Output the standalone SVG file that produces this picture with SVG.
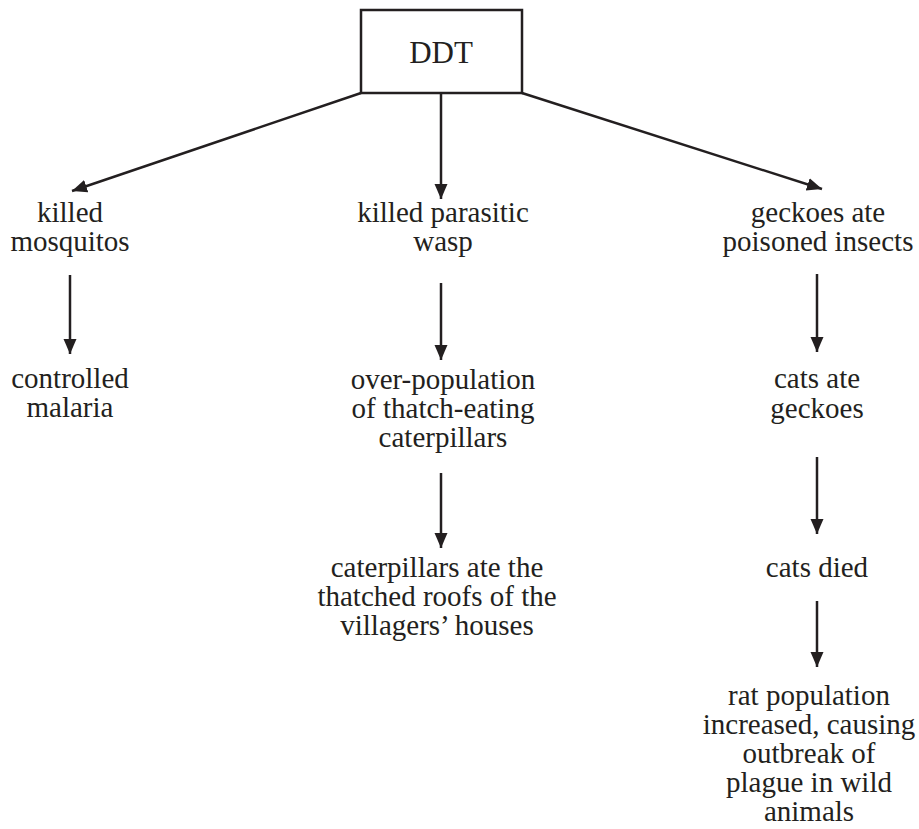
<svg xmlns="http://www.w3.org/2000/svg" width="919" height="829" viewBox="0 0 919 829">
<style>
text{font-family:"Liberation Serif","Times New Roman",serif;font-size:29px;fill:#231f20;text-anchor:middle}
.ln{stroke:#231f20;stroke-width:2.5;fill:none;marker-end:url(#ah)}
</style>
<defs>
<marker id="ah" markerUnits="userSpaceOnUse" markerWidth="16" markerHeight="14" refX="15" refY="6.5" orient="auto">
<path d="M0,0 L15,6.5 L0,13 z" fill="#231f20"/>
</marker>
</defs>
<rect width="919" height="829" fill="#fff"/>
<g id="ddt">
<rect x="361" y="10" width="161" height="83" fill="#fff" stroke="#231f20" stroke-width="2.5"/>
<text x="441" y="63" style="font-size:31px">DDT</text>
</g>
<g id="connectors">
<line class="ln" x1="361" y1="93" x2="72" y2="191"/>
<line class="ln" x1="441" y1="93" x2="441" y2="199"/>
<line class="ln" x1="522" y1="93" x2="822" y2="189"/>
<line class="ln" x1="70" y1="275" x2="70" y2="354"/>
<line class="ln" x1="441" y1="283" x2="441" y2="360"/>
<line class="ln" x1="441" y1="473" x2="441" y2="548"/>
<line class="ln" x1="817" y1="274" x2="817" y2="352"/>
<line class="ln" x1="817" y1="457" x2="817" y2="534"/>
<line class="ln" x1="817" y1="601" x2="817" y2="667"/>
</g>
<g id="mosquitos"><text x="70" y="222">killed</text><text x="70" y="251">mosquitos</text></g>
<g id="malaria"><text x="70" y="388">controlled</text><text x="70" y="417">malaria</text></g>
<g id="wasp"><text x="443" y="222">killed parasitic</text><text x="443" y="251">wasp</text></g>
<g id="overpop"><text x="443" y="389">over-population</text><text x="443" y="418">of thatch-eating</text><text x="443" y="447">caterpillars</text></g>
<g id="roofs"><text x="437" y="577">caterpillars ate the</text><text x="437" y="606">thatched roofs of the</text><text x="437" y="635">villagers’ houses</text></g>
<g id="geckoes"><text x="818" y="222">geckoes ate</text><text x="818" y="251">poisoned insects</text></g>
<g id="catsate"><text x="817" y="388">cats ate</text><text x="817" y="418">geckoes</text></g>
<g id="catsdied"><text x="817" y="577">cats died</text></g>
<g id="rats"><text x="809" y="705">rat population</text><text x="809" y="734">increased, causing</text><text x="809" y="763">outbreak of</text><text x="809" y="792">plague in wild</text><text x="809" y="821">animals</text></g>
</svg>
